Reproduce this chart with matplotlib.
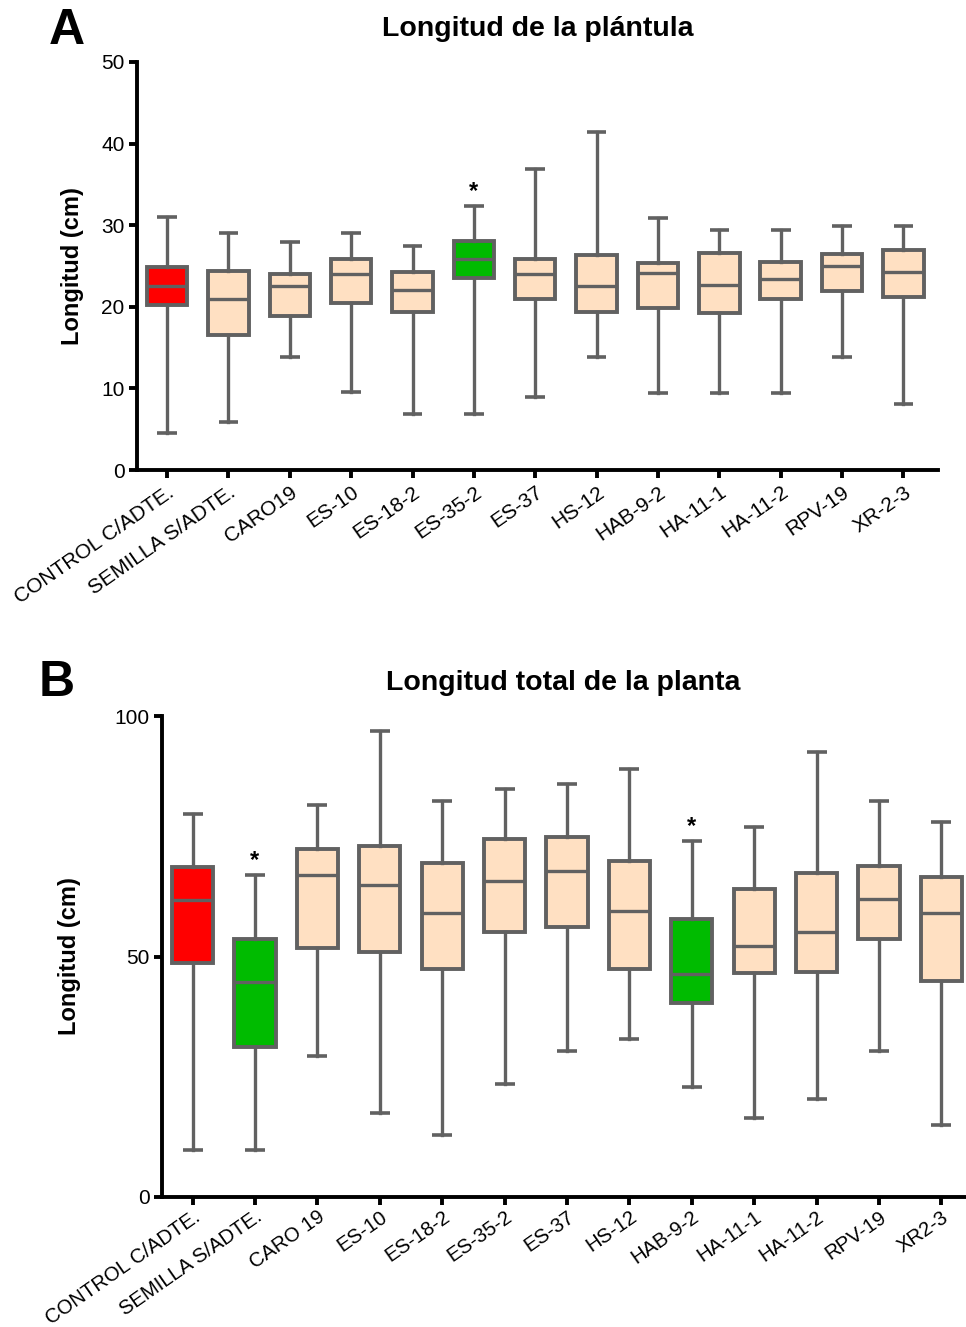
import matplotlib
matplotlib.use("Agg")
import matplotlib.pyplot as plt

plt.rcParams['font.family'] = ['Liberation Sans', 'DejaVu Sans']

# ---------------- Data ----------------
cats_A = ['CONTROL C/ADTE.', 'SEMILLA S/ADTE.', 'CARO19', 'ES-10', 'ES-18-2', 'ES-35-2',
          'ES-37', 'HS-12', 'HAB-9-2', 'HA-11-1', 'HA-11-2', 'RPV-19', 'XR-2-3']
a_low = [4.5, 5.9, 13.9, 9.5, 6.9, 6.9, 9.0, 13.9, 9.4, 9.4, 9.4, 13.9, 8.1]
a_q1 = [20.2, 16.5, 18.9, 20.5, 19.4, 23.5, 20.9, 19.4, 19.8, 19.2, 21.0, 21.9, 21.2]
a_med = [22.5, 21.0, 22.5, 24.0, 22.1, 25.9, 24.0, 22.6, 24.2, 22.7, 23.4, 25.0, 24.3]
a_q3 = [24.9, 24.4, 24.0, 25.8, 24.3, 28.1, 25.9, 26.4, 25.4, 26.6, 25.5, 26.5, 27.0]
a_high = [31.0, 29.0, 27.9, 29.0, 27.5, 32.4, 36.9, 41.4, 30.9, 29.4, 29.4, 29.9, 29.9]
a_colors = ['#FF0000', '#FFE0C2', '#FFE0C2', '#FFE0C2', '#FFE0C2', '#00BB00', '#FFE0C2',
            '#FFE0C2', '#FFE0C2', '#FFE0C2', '#FFE0C2', '#FFE0C2', '#FFE0C2']
a_stars = [5]

cats_B = ['CONTROL C/ADTE.', 'SEMILLA S/ADTE.', 'CARO 19', 'ES-10', 'ES-18-2', 'ES-35-2',
          'ES-37', 'HS-12', 'HAB-9-2', 'HA-11-1', 'HA-11-2', 'RPV-19', 'XR2-3']
b_low = [9.7, 9.8, 29.4, 17.4, 12.8, 23.4, 30.4, 32.8, 22.9, 16.4, 20.4, 30.4, 14.9]
b_q1 = [48.6, 31.2, 51.8, 50.9, 47.5, 55.0, 56.1, 47.5, 40.4, 46.5, 46.7, 53.7, 44.9]
b_med = [61.7, 44.7, 66.9, 64.9, 59.0, 65.6, 67.7, 59.5, 46.4, 52.1, 55.0, 62.0, 59.0]
b_q3 = [68.7, 53.6, 72.4, 73.0, 69.4, 74.4, 74.9, 69.9, 57.7, 64.0, 67.3, 68.8, 66.5]
b_high = [79.7, 66.9, 81.4, 96.9, 82.3, 84.9, 85.9, 88.9, 74.0, 76.9, 92.5, 82.4, 77.9]
b_colors = ['#FF0000', '#00BB00', '#FFE0C2', '#FFE0C2', '#FFE0C2', '#FFE0C2', '#FFE0C2',
            '#FFE0C2', '#00BB00', '#FFE0C2', '#FFE0C2', '#FFE0C2', '#FFE0C2']
b_stars = [1, 8]

EDGE = '#616161'


def draw_panel(ax, cats, low, q1, med, q3, high, colors, stars, ymax, yticks, title,
               letter, letter_x, ylabel_x, xlim_right, tick_fs, xtick_fs, title_pad, xpad):
    stats = [dict(whislo=l, q1=a, med=m, q3=b, whishi=h, fliers=[], label=c)
             for c, l, a, m, b, h in zip(cats, low, q1, med, q3, high)]
    pos = list(range(len(cats)))
    bp = ax.bxp(stats, positions=pos, widths=0.66, patch_artist=True, showfliers=False,
                capwidths=0.32,
                boxprops=dict(edgecolor=EDGE, linewidth=2.8),
                medianprops=dict(color=EDGE, linewidth=2.4, solid_capstyle='butt'),
                whiskerprops=dict(color=EDGE, linewidth=2.4),
                capprops=dict(color=EDGE, linewidth=2.6, solid_capstyle='butt'))
    for patch, col in zip(bp['boxes'], colors):
        patch.set_facecolor(col)
    for i in stars:
        ax.annotate('*', xy=(pos[i], high[i]), xytext=(0, 2), textcoords='offset points',
                    ha='center', va='bottom', fontsize=17, fontweight='bold')
    ax.set_xlim(-0.49, xlim_right)
    ax.set_ylim(0, ymax)
    ax.set_yticks(yticks)
    ax.set_xticks(pos)
    ax.set_xticklabels(cats, rotation=35, ha='right', va='top', rotation_mode='anchor',
                       fontsize=xtick_fs)
    ax.tick_params(axis='y', labelsize=tick_fs)
    for s in ['top', 'right']:
        ax.spines[s].set_visible(False)
    for s in ['left', 'bottom']:
        ax.spines[s].set_linewidth(2.8)
        ax.spines[s].set_color('black')
    ax.tick_params(width=2.8, length=6, direction='out', pad=3)
    ax.tick_params(axis='x', pad=xpad)
    ax.set_title(title, fontsize=20.5, fontweight='bold', pad=title_pad)
    ax.set_ylabel('Longitud (cm)', fontsize=17, fontweight='bold')
    ax.yaxis.set_label_coords(ylabel_x, 0.5)
    ax.text(letter_x, 1.02, letter, transform=ax.transAxes, fontsize=36,
            fontweight='bold', ha='center', va='bottom')


fig = plt.figure(figsize=(9.66, 13.27), dpi=100)
axA = fig.add_axes([0.1418, 0.6458, 0.829, 0.3075])
axB = fig.add_axes([0.1677, 0.098, 0.8313, 0.3624])

draw_panel(axA, cats_A, a_low, a_q1, a_med, a_q3, a_high, a_colors, a_stars,
           50, [0, 10, 20, 30, 40, 50], 'Longitud de la plántula', 'A', -0.087,
           -0.066, 12.56, 15, 15, 19, 3)
draw_panel(axB, cats_B, b_low, b_q1, b_med, b_q3, b_high, b_colors, b_stars,
           100, [0, 50, 100], 'Longitud total de la planta', 'B', -0.131,
           -0.101, 12.38, 15, 14.6, 19, 1.5)

fig.savefig('out.png', dpi=100)
